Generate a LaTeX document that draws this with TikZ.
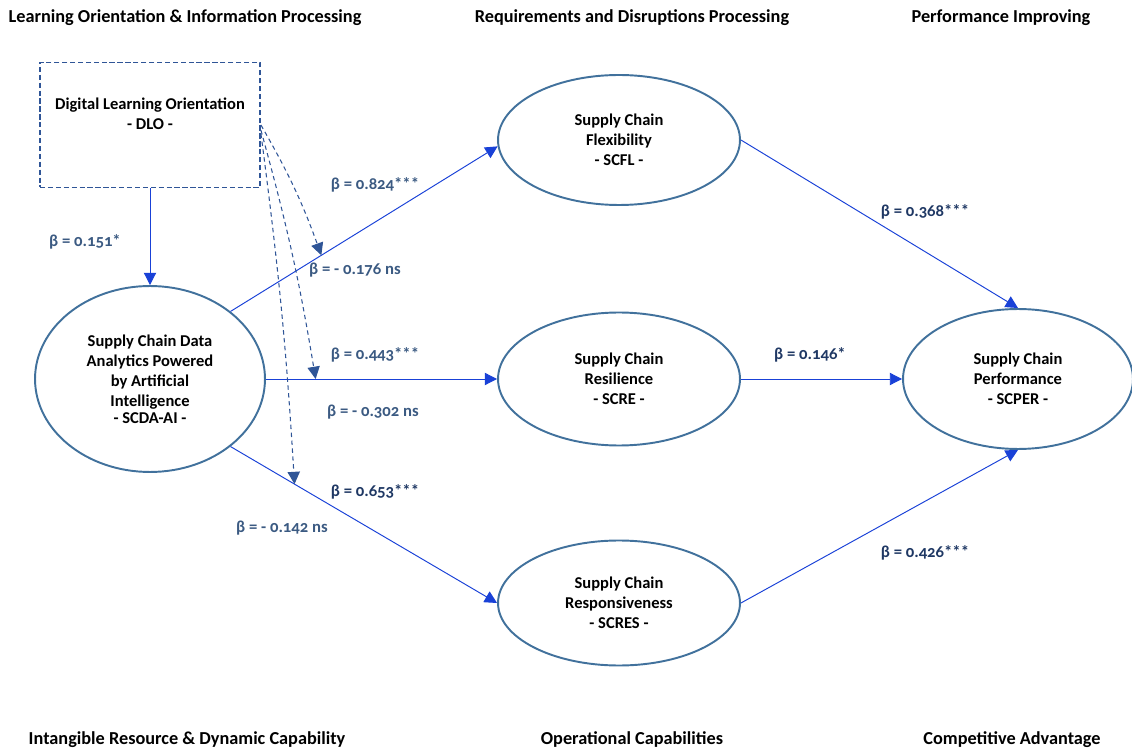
\documentclass[tikz,border=0pt]{standalone}
\usepackage{fontspec}
\setmainfont{Carlito}[Numbers=OldStyle]
\usetikzlibrary{shapes.geometric, arrows.meta}
\definecolor{ringblue}{RGB}{65,113,156}
\definecolor{pathblue}{RGB}{25,65,215}
\definecolor{dashblue}{RGB}{47,85,151}
\definecolor{betalight}{RGB}{59,90,130}
\definecolor{betadark}{RGB}{31,56,100}
\tikzstyle{construct} = [ellipse, draw=ringblue, line width=1.1pt, text centered, align=center, font=\bfseries\fontsize{9.4}{11.5}\selectfont]
\tikzstyle{dlobox} = [rectangle, draw=dashblue, dash pattern=on 3pt off 1.5pt, line width=1.1pt, minimum width=4.4cm, minimum height=2.5cm, align=center, font=\bfseries\fontsize{9.4}{11.5}\selectfont]
\tikzstyle{arrow} = [draw=pathblue, line width=0.55pt, -{Triangle[length=7pt,width=7pt]}]
\tikzstyle{modarrow} = [draw=dashblue, line width=0.6pt, dash pattern=on 2.5pt off 2pt, -{Triangle[length=7pt,width=7pt]}]
\tikzstyle{betalbl} = [text=betalight, font=\bfseries\fontsize{9.5}{11}\selectfont]
\tikzstyle{betabold} = [text=betadark, font=\bfseries\fontsize{9.5}{11}\selectfont]
\tikzstyle{heading} = [font=\bfseries\fontsize{10.4}{12}\selectfont]

\begin{document}
\begin{tikzpicture}[x=0.02cm, y=-0.02cm]
\useasboundingbox (0,0) rectangle (1132,756);

% column headings
\node (h1) [heading] at (185,18) {Learning Orientation \& Information Processing};
\node (h2) [heading] at (632,18) {Requirements and Disruptions Processing};
\node (h3) [heading] at (1001,18) {Performance Improving};
\node (f1) [heading] at (187,740) {Intangible Resource \& Dynamic Capability};
\node (f2) [heading] at (632,740) {Operational Capabilities};
\node (f3) [heading] at (1012,740) {Competitive Advantage};

% constructs
\node (dlo) [dlobox] at (150,125) {Digital Learning Orientation\\- DLO -\\[1pt]};
\node (scda) [construct, minimum width=4.6cm, minimum height=3.72cm] at (150,379) {Supply Chain Data\\Analytics Powered\\by Artificial\\Intelligence\\[-2pt]- SCDA-AI -};
\node (scfl) [construct, minimum width=4.84cm, minimum height=2.6cm] at (619,140) {Supply Chain\\Flexibility\\- SCFL -};
\node (scre) [construct, minimum width=4.84cm, minimum height=2.66cm] at (619,379) {Supply Chain\\Resilience\\- SCRE -};
\node (scres) [construct, minimum width=4.84cm, minimum height=2.5cm] at (619,603) {Supply Chain\\Responsiveness\\- SCRES -};
\node (scper) [construct, minimum width=4.6cm, minimum height=2.8cm] at (1018,379) {Supply Chain\\Performance\\- SCPER -};

% paths
\draw [arrow] (dlo) -- (scda);
\draw [arrow] (scda.40) -- coordinate[pos=0.34] (m1) (scfl.183);
\draw [arrow] (scda.east) -- coordinate[pos=0.215] (m2) (scre.west);
\draw [arrow] (scda.-40) -- coordinate[pos=0.24] (m3) (scres.west);
\draw [arrow] (scfl.east) -- (scper.north);
\draw [arrow] (scre.east) -- (scper.west);
\draw [arrow] (scres.east) -- (scper.south);

% moderation
\draw [modarrow] (dlo.east) to[bend left=5] (m1);
\draw [modarrow] ([yshift=-3pt]dlo.east) to[bend left=3] (m2);
\draw [modarrow] ([yshift=-5pt]dlo.east) to[bend left=2] (m3);

% coefficients
\node (b1) [betalbl] at (85,242) {β = 0.151*};
\node (b2) [betalbl] at (375,185) {β = 0.824***};
\node (b3) [betalbl] at (355,270) {β = - 0.176 ns};
\node (b4) [betalbl] at (375,355) {β = 0.443***};
\node (b5) [betalbl] at (373,412) {β = - 0.302 ns};
\node (b6) [betabold] at (375,492) {β = 0.653***};
\node (b7) [betalbl] at (282,528) {β = - 0.142 ns};
\node (b8) [betabold] at (925,212) {β = 0.368***};
\node (b9) [betabold] at (810,355) {β = 0.146*};
\node (b10) [betabold] at (925,553) {β = 0.426***};
\end{tikzpicture}
\end{document}
